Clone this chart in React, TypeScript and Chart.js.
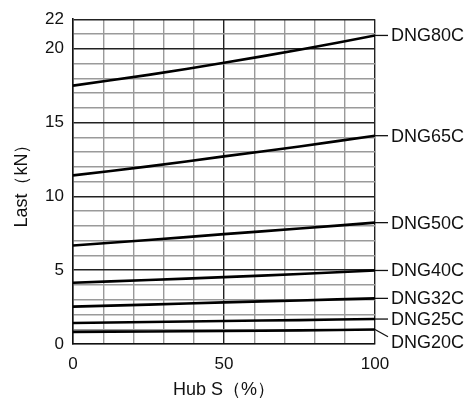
import React, { useEffect, useRef } from "react";
import { Chart, registerables } from "chart.js";

Chart.register(...registerables);

const xValues = [0, 25, 50, 75, 100];
const seriesNames = ["DNG80C", "DNG65C", "DNG50C", "DNG40C", "DNG32C", "DNG25C", "DNG20C"];
const dng80 = [17.5, 18.23, 19.05, 19.93, 20.9];
const dng65 = [11.42, 12.03, 12.71, 13.38, 14.11];
const dng50 = [6.67, 7.04, 7.44, 7.82, 8.22];
const dng40 = [4.15, 4.33, 4.53, 4.74, 4.98];
const dng32 = [2.53, 2.67, 2.82, 2.95, 3.09];
const dng25 = [1.42, 1.49, 1.56, 1.62, 1.69];
const dng20 = [0.82, 0.85, 0.88, 0.92, 0.98];
const seriesValues = [dng80, dng65, dng50, dng40, dng32, dng25, dng20];
// value where each right-hand label sits
const labelValues = [20.9, 14.11, 8.22, 4.98, 3.09, 1.69, 0.15];
const leaderEndValues = [20.9, 14.11, 8.22, 4.98, 3.09, 1.69, 0.49];
const yTickLabels = [0, 5, 10, 15, 20, 22];
const xTickLabels = [0, 50, 100];
const yMajor = [5, 10, 15, 20, 22];
const xMajor = [50, 100];

const FONT = "'Liberation Sans', Arial, sans-serif";

const labelPlugin = {
  id: "seriesLabels",
  afterDatasetsDraw(chart: any) {
    const { ctx, scales } = chart;
    const xs = scales.x;
    const ys = scales.y;
    ctx.save();
    ctx.strokeStyle = "#111";
    ctx.lineWidth = 1.3;
    ctx.fillStyle = "#111";
    ctx.font = `18px ${FONT}`;
    ctx.textBaseline = "middle";
    ctx.textAlign = "left";
    seriesNames.forEach((name, i) => {
      const vals = seriesValues[i];
      const x0 = xs.getPixelForValue(xValues[xValues.length - 1]);
      const y0 = ys.getPixelForValue(vals[vals.length - 1]);
      const y1 = ys.getPixelForValue(leaderEndValues[i]);
      ctx.beginPath();
      ctx.moveTo(x0, y0);
      ctx.lineTo(x0 + 13, y1);
      ctx.stroke();
      ctx.fillText(name, x0 + 16, ys.getPixelForValue(labelValues[i]) + 1);
    });
    ctx.restore();
  },
};

export default function App() {
  const ref = useRef<HTMLCanvasElement | null>(null);
  useEffect(() => {
    if (!ref.current) return;
    const chart = new Chart(ref.current, {
      type: "line",
      data: {
        datasets: seriesNames.map((name, i) => ({
          label: name,
          data: xValues.map((x, j) => ({ x, y: seriesValues[i][j] })),
          borderColor: "#000",
          borderWidth: 2.6,
          pointRadius: 0,
          tension: 0.3,
          fill: false,
        })),
      },
      options: {
        animation: false,
        responsive: false,
        maintainAspectRatio: false,
        layout: { padding: { left: 0, right: 92, top: 14, bottom: 0 } },
        plugins: { legend: { display: false }, tooltip: { enabled: false } },
        scales: {
          x: {
            type: "linear",
            min: 0,
            max: 100,
            afterFit: (s: any) => {
              s.height = 61;
            },
            ticks: {
              stepSize: 10,
              autoSkip: false,
              maxRotation: 0,
              padding: 10,
              color: "#111",
              font: { family: FONT, size: 17 },
              callback: (v: any) => (xTickLabels.includes(v) ? String(v) : ""),
            },
            grid: {
              drawTicks: false,
              color: (c: any) => (xMajor.includes(c.tick?.value) ? "#222" : "#9a9a9a"),
              lineWidth: (c: any) => (xMajor.includes(c.tick?.value) ? 1.4 : 1.4),
            },
            border: { display: true, color: "#111", width: 1.6 },
            title: {
              display: true,
              text: "Hub S（%）",
              color: "#111",
              font: { family: FONT, size: 18 },
              padding: { top: 0, bottom: 4 },
            },
          },
          y: {
            type: "linear",
            min: 0,
            max: 22,
            afterFit: (s: any) => {
              s.width = 73;
            },
            ticks: {
              stepSize: 1,
              autoSkip: false,
              padding: 9,
              color: "#111",
              font: { family: FONT, size: 17 },
              callback: (v: any) => (yTickLabels.includes(v) ? String(v) : ""),
            },
            grid: {
              drawTicks: false,
              color: (c: any) => (yMajor.includes(c.tick?.value) ? "#222" : "#9a9a9a"),
              lineWidth: (c: any) => (yMajor.includes(c.tick?.value) ? 1.4 : 1.4),
            },
            border: { display: true, color: "#111", width: 1.6 },
            title: {
              display: true,
              text: "Last（kN）",
              color: "#111",
              font: { family: FONT, size: 18 },
              padding: { top: 11, bottom: 0 },
            },
          },
        },
      },
      plugins: [labelPlugin],
    });
    return () => chart.destroy();
  }, []);
  return (
    <div style={{ position: "fixed", left: 0, top: 0, width: 467, height: 405, background: "#fff" }}>
      <canvas ref={ref} width={467} height={405} style={{ width: 467, height: 405, display: "block" }} />
    </div>
  );
}
